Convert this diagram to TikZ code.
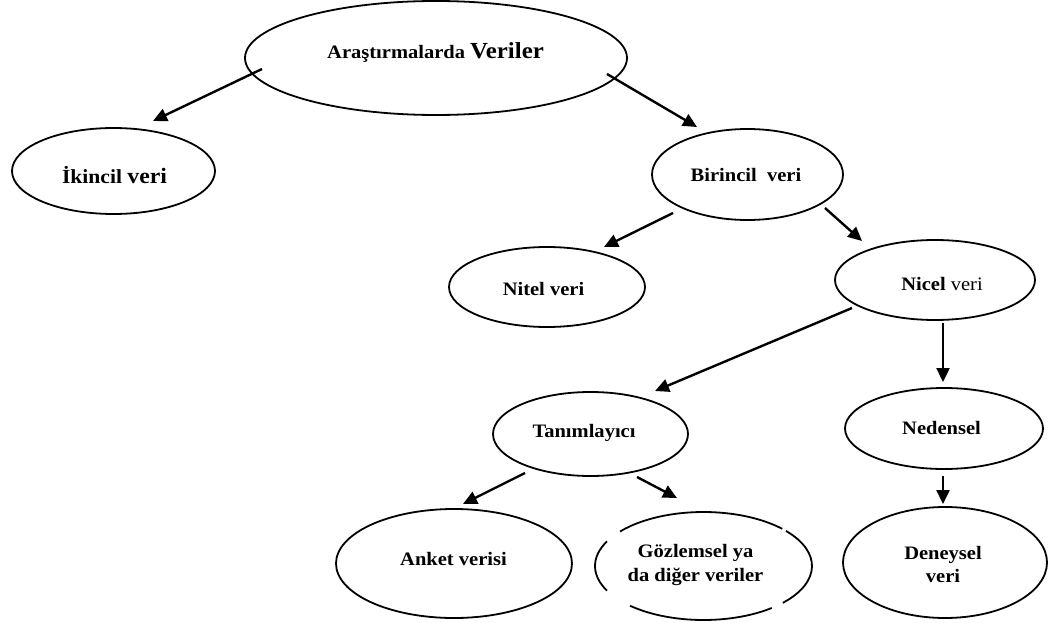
\documentclass[tikz,border=0pt]{standalone}
\usepackage{fontspec}
\setmainfont{Liberation Serif}[FakeStretch=1.08]
\usetikzlibrary{shapes.geometric,arrows.meta}
\begin{document}
\begin{tikzpicture}[x=1pt,y=1pt,yscale=-1,
  box/.style={draw, line width=1.8pt, ellipse, inner sep=0pt},
  lbl/.style={inner sep=0pt, font=\bfseries\fontsize{19}{23}\selectfont},
  conn/.style={line width=2.4pt, -{Triangle[length=14pt,width=13pt]}},
  arcline/.style={line width=1.8pt}]
\fill[white] (0,0) rectangle (1057,623);
\useasboundingbox (0,0) rectangle (1057,623);

% ellipses
\node[box, minimum width=382pt, minimum height=114pt] (root) at (436,58) {};
\node[box, minimum width=203pt, minimum height=86pt] (ikincil) at (113.5,171) {};
\node[box, minimum width=191pt, minimum height=91pt] (birincil) at (747.5,174.5) {};
\node[box, minimum width=196pt, minimum height=80pt] (nitel) at (547,287) {};
\node[box, minimum width=200pt, minimum height=80pt] (nicel) at (935,280) {};
\node[box, minimum width=195pt, minimum height=84pt] (tan) at (590.5,434) {};
\node[box, minimum width=198pt, minimum height=81pt] (ned) at (944,428.5) {};
\node[box, minimum width=236pt, minimum height=109pt] (anket) at (454,563.5) {};
\node[box, minimum width=204pt, minimum height=111pt] (den) at (945,562.5) {};
\node[ellipse, inner sep=0pt, minimum width=217pt, minimum height=108pt] (goz) at (703.5,566) {};
\draw[arcline] (goz.center) ++(219.7:108.5 and 54) arc[start angle=219.7, end angle=316.5, x radius=108.5, y radius=54];
\draw[arcline] (goz.center) ++(319.5:108.5 and 54) arc[start angle=319.5, end angle=403, x radius=108.5, y radius=54];
\draw[arcline] (goz.center) ++(51:108.5 and 54) arc[start angle=51, end angle=132.6, x radius=108.5, y radius=54];
\draw[arcline] (goz.center) ++(152.8:108.5 and 54) arc[start angle=152.8, end angle=207.2, x radius=108.5, y radius=54];

% labels
\node[lbl, anchor=base] (rootT) at (435.5,59) {\fontsize{19}{22}\selectfont Araştırmalarda \fontsize{23}{26}\selectfont Veriler};
\node[lbl, anchor=base] (ikincilT) at (114.5,183) {\fontsize{20}{24}\selectfont İkincil {\fontsize{22}{26}\selectfont veri}};
\node[lbl, anchor=base] (birincilT) at (746,181) {Birincil\ \ veri};
\node[lbl, anchor=base] (nitelT) at (543.5,295) {Nitel veri};
\node[lbl, anchor=base] (nicelT) at (942,290) {Nicel {\mdseries veri}};
\node[lbl, anchor=base] (tanT) at (584,437) {Tanımlayıcı};
\node[lbl, anchor=base] (nedT) at (941.5,434) {Nedensel};
\node[lbl, anchor=base] (anketT) at (453.5,565) {Anket verisi};
\node[lbl, align=center, font=\bfseries\fontsize{19}{24}\selectfont] (gozT) at (695.5,565) {Gözlemsel ya\\da diğer veriler};
\node[lbl, align=center, font=\bfseries\fontsize{19}{23}\selectfont] (denT) at (943,564.5) {Deneysel\\veri};

% connector end points
\coordinate (s1) at (262,69);  \coordinate (t1) at (153,121);
\coordinate (s2) at (607,74);  \coordinate (t2) at (697,127);
\coordinate (s3) at (673,213); \coordinate (t3) at (604,247);
\coordinate (s4) at (825,208); \coordinate (t4) at (862,241);
\coordinate (s5) at (852,308); \coordinate (t5) at (655,391);
\coordinate (s6) at (943,323); \coordinate (t6) at (943,382);
\coordinate (s7) at (525,473); \coordinate (t7) at (463,504);
\coordinate (s8) at (637,477); \coordinate (t8) at (677,498);
\coordinate (s9) at (943,476); \coordinate (t9) at (943,504);

\draw[conn] (s1) -- (t1);
\draw[conn] (s2) -- (t2);
\draw[conn] (s3) -- (t3);
\draw[conn] (s4) -- (t4);
\draw[conn] (s5) -- (t5);
\draw[conn] (s6) -- (t6);
\draw[conn] (s7) -- (t7);
\draw[conn] (s8) -- (t8);
\draw[conn] (s9) -- (t9);
\end{tikzpicture}
\end{document}
